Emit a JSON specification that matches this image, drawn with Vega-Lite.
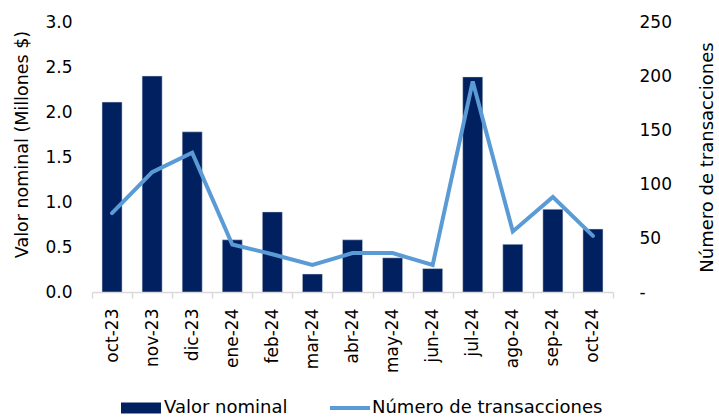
{
  "$schema": "https://vega.github.io/schema/vega-lite/v6.json",
  "autosize": {"type": "none"},
  "padding": {"left": 92, "top": 22, "right": 106, "bottom": 125},
  "width": 521,
  "height": 270,
  "background": "white",
  "config": {
    "view": {"stroke": null},
    "font": "DejaVu Sans",
    "axis": {"labelFont": "DejaVu Sans", "titleFont": "DejaVu Sans", "labelFontSize": 17, "titleFontSize": 17.5, "labelColor": "#000000", "titleColor": "#000000", "titleFontWeight": "normal", "grid": false},
    "legend": {"labelFont": "DejaVu Sans", "labelFontSize": 18, "labelColor": "#000000", "padding": 0, "labelLimit": 400}
  },
  "data": {
    "values": [
      {"mes": "oct-23", "valor": 2.11, "num": 73},
      {"mes": "nov-23", "valor": 2.40, "num": 111},
      {"mes": "dic-23", "valor": 1.78, "num": 129},
      {"mes": "ene-24", "valor": 0.58, "num": 44},
      {"mes": "feb-24", "valor": 0.89, "num": 35},
      {"mes": "mar-24", "valor": 0.20, "num": 25},
      {"mes": "abr-24", "valor": 0.58, "num": 36},
      {"mes": "may-24", "valor": 0.38, "num": 36},
      {"mes": "jun-24", "valor": 0.26, "num": 25},
      {"mes": "jul-24", "valor": 2.39, "num": 195},
      {"mes": "ago-24", "valor": 0.53, "num": 56},
      {"mes": "sep-24", "valor": 0.92, "num": 88},
      {"mes": "oct-24", "valor": 0.70, "num": 52}
    ]
  },
  "encoding": {
    "x": {
      "field": "mes", "type": "ordinal", "sort": null,
      "scale": {"paddingInner": 0, "paddingOuter": 0},
      "axis": {
        "title": null, "labelAngle": 270, "labelAlign": "right", "labelBaseline": "middle",
        "domainColor": "#d9d9d9", "domainWidth": 1.5, "tickColor": "#d9d9d9", "tickWidth": 1.5, "tickSize": 6,
        "tickBand": "extent", "labelPadding": 10
      }
    }
  },
  "layer": [
    {
      "mark": {"type": "bar", "width": {"band": 0.5}, "stroke": "#d6dce5", "strokeWidth": 0.5},
      "encoding": {
        "y": {
          "field": "valor", "type": "quantitative",
          "scale": {"domain": [0, 3]},
          "axis": {
            "title": "Valor nominal (Millones $)", "orient": "left", "values": [0, 0.5, 1, 1.5, 2, 2.5, 3],
            "format": ".1f", "domain": false, "ticks": false, "labelPadding": 20,
            "titleAngle": 270, "titleBaseline": "middle", "titleX": -70, "titleY": 122
          }
        },
        "fill": {
          "datum": "Valor nominal", "type": "nominal",
          "scale": {"range": ["#002060"]},
          "legend": {
            "title": null, "orient": "none", "legendX": 40, "legendY": 377,
            "symbolType": "M-4,-1.1H4V1.1H-4Z", "symbolSize": 100, "symbolStrokeWidth": 0,
            "labelOffset": 14
          }
        }
      }
    },
    {
      "mark": {"type": "line", "strokeWidth": 4, "strokeCap": "round"},
      "encoding": {
        "y": {
          "field": "num", "type": "quantitative",
          "scale": {"domain": [0, 250]},
          "axis": {
            "title": "Número de transacciones", "orient": "right", "values": [0, 50, 100, 150, 200, 250],
            "labelExpr": "datum.value == 0 ? '-' : datum.label", "labelAlign": "left",
            "domain": false, "ticks": false, "labelPadding": 26, "titleFontSize": 18,
            "titleAngle": 270, "titleBaseline": "middle", "titleX": 94, "titleY": 135
          }
        },
        "stroke": {
          "datum": "Número de transacciones", "type": "nominal",
          "scale": {"range": ["#5b9bd5"]},
          "legend": {
            "title": null, "orient": "none", "legendX": 249, "legendY": 377,
            "symbolType": "M-4,0H4", "symbolSize": 100, "symbolStrokeWidth": 4,
            "labelOffset": 13
          }
        }
      }
    }
  ],
  "resolve": {"scale": {"y": "independent", "fill": "independent", "stroke": "independent"}}
}
